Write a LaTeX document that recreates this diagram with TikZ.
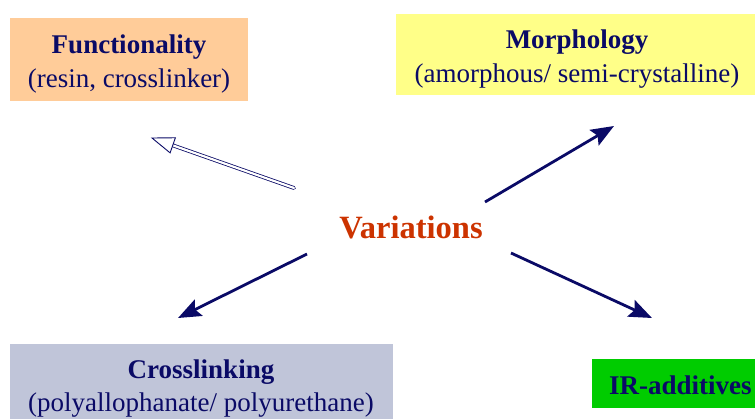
\documentclass[tikz,border=0pt]{standalone}
\usepackage{fontspec}
\setmainfont{Liberation Serif}
\usetikzlibrary{arrows.meta,calc}
\definecolor{navytxt}{HTML}{0A0A66}
\definecolor{peach}{HTML}{FFCC99}
\definecolor{lightyellow}{HTML}{FFFF88}
\definecolor{greyblue}{HTML}{C0C5D9}
\definecolor{irgreen}{HTML}{00CC00}
\definecolor{varred}{HTML}{CC3300}
\tikzset{
  box/.style={inner sep=0pt, align=center, text=navytxt, font=\fontsize{27}{33.5}\selectfont},
  conn/.style={draw=navytxt, line width=2.8pt, -{Stealth[length=23pt,width=18pt,inset=4pt]}},
}
\begin{document}
\begin{tikzpicture}[x=1pt,y=-1pt]
\useasboundingbox (0,0) rectangle (755,418);
\node[box, fill=peach, minimum width=238pt, minimum height=83pt] (func) at (129,59.5) {};
\node[box] (funct) at (129,64) {\textbf{Functionality}\\(resin, crosslinker)};
\node[box, fill=lightyellow, minimum width=359pt, minimum height=81pt] (morph) at (575.5,54.5) {};
\node[box] (morpht) at (577,59) {\textbf{Morphology}\\(amorphous/ semi-crystalline)};
\node[box, fill=greyblue, minimum width=383pt, minimum height=76pt] (cross) at (201.5,382) {};
\node[box] (crosst) at (201,388.5) {\textbf{Crosslinking}\\(polyallophanate/ polyurethane)};
\node[box, fill=irgreen, minimum width=163pt, minimum height=49pt] (ir) at (673.5,383.5) {};
\node[box, anchor=west] (irt) at (609,385) {\textbf{IR-additives}};
\node[text=varred, font=\fontsize{32.5}{36}\selectfont\bfseries] (var) at (411,227.5) {Variations};
% arrows
\coordinate (a1s) at (294,188);
\coordinate (a1e) at (152,138);
\coordinate (a2s) at (485,202);
\coordinate (a2e) at (614,126);
\coordinate (a3s) at (307,254);
\coordinate (a3e) at (178,318);
\coordinate (a4s) at (511,253);
\coordinate (a4e) at (652,318);
\draw[navytxt, line width=0.8pt, double=white, double distance=2.2pt, line cap=round] (a1s) -- ($(a1e)!17pt!(a1s)$);
\draw[navytxt, line width=0.9pt, line join=miter, fill=white] (a1e) -- ($(a1e)!22pt!(a1s)!8pt!90:(a1s)$) -- ($(a1e)!22pt!(a1s)!8pt!-90:(a1s)$) -- cycle;
\draw[conn] (a2s) -- (a2e);
\draw[conn] (a3s) -- (a3e);
\draw[conn] (a4s) -- (a4e);
\end{tikzpicture}
\end{document}
